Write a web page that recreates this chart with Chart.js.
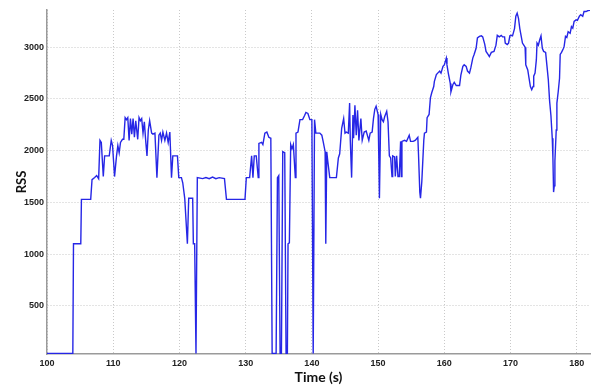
<!DOCTYPE html>
<html>
<head>
<meta charset="utf-8">
<script src="https://cdn.jsdelivr.net/npm/chart.js@4.4.1/dist/chart.umd.min.js"></script>
<style>
  html, body { margin: 0; padding: 0; background: #fff; }
  #wrap { width: 594px; height: 388px; }
</style>
</head>
<body>
<div id="wrap"><canvas id="chart-rss" width="594" height="388"></canvas></div>
<script>
// RSS trace (time in s, RSS value)
const times = [
  100.0, 103.9, 104.0, 105.1, 105.2, 106.6, 106.8, 107.2, 107.5, 107.8,
  108.0, 108.2, 108.5, 108.7, 109.4, 109.7, 109.9, 110.2, 110.5, 110.7,
  110.9, 111.1, 111.4, 111.6, 111.8, 112.0, 112.2, 112.4, 112.6, 112.8,
  113.0, 113.2, 113.4, 113.7, 113.9, 114.1, 114.3, 114.5, 114.7, 114.9,
  115.1, 115.3, 115.5, 115.8, 116.0, 116.3, 116.6, 116.9, 117.1, 117.3,
  117.5, 117.8, 118.05, 118.3, 118.55, 118.8, 119.0, 119.7, 119.9, 120.3,
  120.5, 120.8, 121.2, 121.4, 122.0, 122.1, 122.3, 122.5, 122.7, 123.5,
  124.0, 124.5, 125.0, 125.5, 126.0, 126.8, 127.1, 128.0, 129.9, 130.1,
  130.6, 130.9, 131.1, 131.3, 131.6, 131.9, 132.0, 132.4, 132.6, 132.9,
  133.2, 133.5, 133.8, 134.0, 134.6, 134.8, 135.0, 135.2, 135.4, 135.6,
  135.9, 136.1, 136.3, 136.4, 136.6, 136.8, 137.0, 137.2, 137.5, 137.6,
  137.9, 138.2, 138.6, 138.9, 139.1, 139.4, 139.7, 140.0, 140.2, 140.4,
  140.6, 141.2, 141.5, 141.7, 142.0, 142.1, 142.25, 142.4, 142.7, 143.7,
  144.0, 144.2, 144.5, 144.8, 145.0, 145.2, 145.5, 145.7, 145.8, 146.0,
  146.2, 146.3, 146.5, 146.7, 146.9, 147.1, 147.4, 147.6, 147.9, 148.2,
  148.6, 148.8, 149.1, 149.3, 149.5, 149.7, 150.0, 150.1, 150.2, 150.4,
  150.6, 150.8, 151.0, 151.3, 151.5, 151.7, 151.9, 152.1, 152.2, 152.5,
  152.6, 152.8, 153.0, 153.2, 153.4, 153.5, 153.6, 154.0, 154.3, 154.7,
  154.9, 155.3, 155.6, 156.0, 156.1, 156.3, 156.4, 156.6, 156.9, 157.0,
  157.3, 157.4, 157.7, 157.9, 158.1, 158.4, 158.5, 158.8, 159.0, 159.3,
  159.5, 159.8, 160.0, 160.3, 160.4, 160.6, 160.9, 161.0, 161.3, 161.5,
  161.8, 162.0, 162.3, 162.5, 162.8, 163.0, 163.3, 163.5, 163.8, 164.0,
  164.3, 164.5, 164.8, 165.0, 165.3, 165.6, 165.8, 166.1, 166.3, 166.6,
  166.8, 167.1, 167.5, 167.8, 168.0, 168.3, 168.6, 168.8, 169.1, 169.2,
  169.5, 169.7, 169.9, 170.1, 170.3, 170.6, 170.8, 171.0, 171.2, 171.4,
  171.6, 171.8, 172.0, 172.2, 172.3, 172.6, 172.8, 173.0, 173.2, 173.4,
  173.5, 173.7, 173.9, 174.0, 174.2, 174.4, 174.6, 174.8, 175.0, 175.3,
  175.5, 175.7, 175.9, 176.1, 176.3, 176.4, 176.5, 176.6, 176.7, 176.9,
  177.0, 177.2, 177.4, 177.5, 177.7, 178.0, 178.1, 178.3, 178.5, 178.7,
  179.0, 179.2, 179.4, 179.6, 179.9, 180.1, 180.4, 180.6, 180.9, 181.1,
  181.4, 181.7, 182.0
];
const rss = [
  40, 40, 1100, 1100, 1530, 1530, 1720, 1740, 1760, 1730,
  2100, 2080, 1750, 1950, 1950, 2100, 2050, 1750, 1950, 2050,
  1980, 2080, 2110, 2110, 2320, 2300, 2320, 2100, 2310, 2160,
  2310, 2130, 2290, 2110, 2320, 2290, 2310, 2170, 2280, 2100,
  1950, 2200, 2290, 2170, 2160, 2170, 1740, 2150, 2170, 2100,
  2180, 2100, 2170, 2080, 2180, 1740, 1950, 1950, 1740, 1740,
  1690, 1540, 1100, 1540, 1540, 1100, 1100, 40, 1740, 1730,
  1740, 1730, 1745, 1730, 1740, 1730, 1530, 1530, 1530, 1740,
  1740, 1950, 1740, 1950, 1950, 1740, 2070, 2080, 2060, 2170,
  2180, 2130, 2120, 40, 40, 1740, 1760, 40, 40, 1990,
  1980, 40, 40, 1100, 1110, 2060, 2020, 2060, 1740, 2170,
  2180, 2300, 2300, 2340, 2370, 2360, 2300, 2300, 40, 2300,
  2170, 2170, 2150, 2090, 1990, 1100, 1990, 1900, 1740, 1740,
  1930, 1970, 2215, 2310, 2170, 2180, 2170, 2460, 2100, 1740,
  2345, 2120, 2440, 2150, 2390, 2100, 2310, 2100, 2180, 2190,
  2100, 2170, 2180, 2310, 2400, 2430, 2350, 1960, 1540, 2350,
  2300, 2280, 2330, 2380, 2280, 1950, 1930, 1750, 1950, 1940,
  1750, 1950, 1750, 1750, 2090, 1750, 2090, 2100, 2090, 2150,
  2090, 2090, 2100, 2130, 1970, 1600, 1540, 1700, 2100, 2170,
  2180, 2320, 2350, 2510, 2560, 2620, 2670, 2735, 2750, 2770,
  2750, 2815, 2830, 2895, 2830, 2750, 2650, 2570, 2640, 2660,
  2630, 2630, 2630, 2730, 2815, 2830, 2815, 2770, 2750, 2800,
  2895, 2930, 2990, 3090, 3105, 3110, 3100, 3030, 2960, 2930,
  2910, 2950, 2960, 3020, 3115, 3100, 3115, 3100, 3100, 3040,
  3025, 3040, 3110, 3115, 3110, 3180, 3300, 3330, 3280, 3180,
  3110, 3040, 3020, 3000, 2830, 2780, 2700, 2620, 2590, 2620,
  2720, 2750, 2880, 3040, 3020, 3070, 3110, 2990, 2960, 2950,
  2820, 2690, 2480, 2340, 2120, 1930, 1600, 1660, 1900, 2200,
  2460, 2570, 2700, 2930, 2950, 2990, 3010, 3105, 3095, 3150,
  3135, 3200, 3185, 3250, 3265, 3260, 3300, 3315, 3300, 3345,
  3345, 3355, 3358
];
const xTicks = [100, 110, 120, 130, 140, 150, 160, 170, 180];
const yTicks = [500, 1000, 1500, 2000, 2500, 3000];

const gridColor = '#c9c9c9';
const axisColor = '#9a9a9a';
const tickFont = { family: 'Liberation Sans', size: 9, weight: 'bold' };
const titleFont = { family: 'Lato', size: 14, weight: 'bold' };

const ctx = document.getElementById('chart-rss').getContext('2d');
new Chart(ctx, {
    type: 'line',
    data: {
        datasets: [{
            label: 'RSS',
            data: times.map((t, i) => ({ x: t, y: rss[i] })),
            borderColor: '#2626e6',
            borderWidth: 1.4,
            pointRadius: 0,
            tension: 0,
            fill: false
        }]
    },
    options: {
        responsive: false,
        animation: false,
        layout: { padding: { top: 10, right: 4, left: 0, bottom: 0 } },
        plugins: { legend: { display: false }, tooltip: { enabled: false } },
        scales: {
            x: {
                type: 'linear',
                min: 100,
                max: 182,
                afterBuildTicks: axis => { axis.ticks = xTicks.map(v => ({ value: v })); },
                afterFit: axis => { axis.height = 34; },
                grid: { color: gridColor, drawTicks: false },
                // in v4 border.dash styles the grid lines
                border: { display: true, color: axisColor, width: 1.5, dash: [1, 2] },
                ticks: { font: tickFont, color: '#222', padding: 4, maxRotation: 0, callback: v => String(v) },
                title: { display: true, text: 'Time (s)', font: titleFont, color: '#111', padding: { top: 0, bottom: 2 } }
            },
            y: {
                min: 35,
                max: 3360,
                afterBuildTicks: axis => { axis.ticks = yTicks.map(v => ({ value: v })); },
                afterFit: axis => { axis.width = 47; },
                grid: { color: gridColor, drawTicks: false },
                border: { display: true, color: axisColor, width: 1.5, dash: [1, 2] },
                ticks: { font: tickFont, color: '#222', padding: 3, callback: v => String(v) },
                title: { display: true, text: 'RSS', font: { family: 'Lato', size: 13, weight: 'bold' }, color: '#111', padding: { top: 14, bottom: 0 } }
            }
        }
    }
});
</script>
</body>
</html>
